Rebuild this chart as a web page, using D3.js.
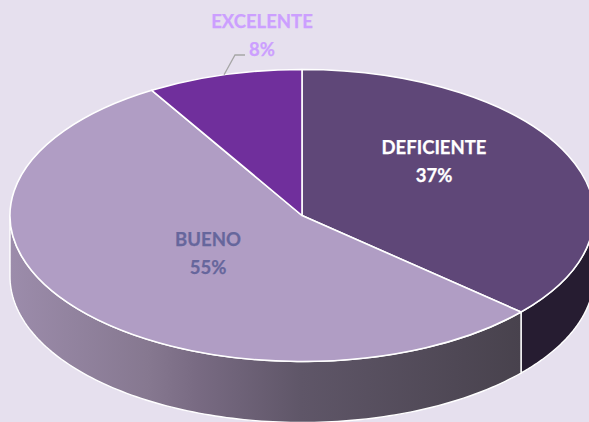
<!DOCTYPE html>
<html>
<head>
<meta charset="utf-8">
<script src="https://cdn.jsdelivr.net/npm/d3@7"></script>
<style>
  html, body { margin: 0; padding: 0; background: #e6e0ee; overflow: hidden; }
  svg { display: block; }
  text { font-family: Lato, "Open Sans", sans-serif; font-weight: 700; font-size: 18.5px; text-anchor: middle; stroke-width: 0.25px; }
</style>
</head>
<body>
<script>
const categories = ['DEFICIENTE', 'BUENO', 'EXCELENTE'];
const values = [36.5, 54.9, 8.6];
const percentLabels = ['37%', '55%', '8%'];
const topColors = ['#5f4778', '#b09dc4', '#702f9c'];
const labelColors = ['#ffffff', '#66669c', '#cc9fff'];
const labelPositions = [[434, 148], [208, 240], [262, 22]];

const width = 589, height = 422;
const cx = 302, cy = 215.5;
const rx = 292, ry = 146;
const depth = 61;

const svg = d3.select('body').append('svg')
  .attr('width', width)
  .attr('height', height);

const pie = d3.pie().sort(null).value(d => d)(values);

const px = a => cx + rx * Math.sin(a);
const py = a => cy - ry * Math.cos(a);

const defs = svg.append('defs');
const grad = defs.append('linearGradient')
  .attr('id', 'wallBueno')
  .attr('gradientUnits', 'userSpaceOnUse')
  .attr('x1', cx - rx).attr('y1', 0)
  .attr('x2', px(pie[1].startAngle)).attr('y2', 0);
grad.append('stop').attr('offset', '0%').attr('stop-color', '#9c8cab');
grad.append('stop').attr('offset', '27%').attr('stop-color', '#867890');
grad.append('stop').attr('offset', '37%').attr('stop-color', '#786a82');
grad.append('stop').attr('offset', '57%').attr('stop-color', '#5f5668');
grad.append('stop').attr('offset', '100%').attr('stop-color', '#48424d');

// paredes: solo la parte de la elipse que mira hacia abajo
const wall = d3.area()
  .x(a => px(a))
  .y0(a => py(a))
  .y1(a => py(a) + depth);

const wallFill = ['#261c31', 'url(#wallBueno)'];
pie.forEach((d, i) => {
  const from = Math.max(d.startAngle, Math.PI / 2);
  const to = Math.min(d.endAngle, Math.PI * 1.5);
  if (from >= to) return;
  const steps = d3.range(0, 121).map(k => from + (to - from) * k / 120);
  svg.append('path')
    .attr('d', wall(steps))
    .attr('fill', wallFill[i])
    .attr('stroke', '#ffffff')
    .attr('stroke-width', 1.4)
    .attr('stroke-linejoin', 'round');
});

const arc = d3.arc().innerRadius(0).outerRadius(rx);

const g = svg.append('g')
  .attr('transform', `translate(${cx},${cy}) scale(1,${ry / rx})`);

g.selectAll('path')
  .data(pie)
  .enter()
  .append('path')
  .attr('d', arc)
  .attr('fill', (d, i) => topColors[i])
  .attr('stroke', '#ffffff')
  .attr('stroke-width', 1.6)
  .attr('stroke-linejoin', 'round')
  .attr('vector-effect', 'non-scaling-stroke');

// linea guia de EXCELENTE
const leaderAngle = (pie[2].startAngle + pie[2].endAngle) / 2;
svg.append('path')
  .attr('d', d3.line()([[px(leaderAngle), py(leaderAngle)], [235, 55], [245, 55]]))
  .attr('fill', 'none')
  .attr('stroke', '#a6a6a6')
  .attr('stroke-width', 1.3);

categories.forEach((name, i) => {
  const [x, y] = labelPositions[i];
  svg.append('text')
    .attr('x', x).attr('y', y)
    .attr('dy', '0.35em')
    .attr('fill', labelColors[i])
    .attr('stroke', labelColors[i])
    .text(name);
  svg.append('text')
    .attr('x', x).attr('y', y + 28)
    .attr('dy', '0.35em')
    .attr('fill', labelColors[i])
    .attr('stroke', labelColors[i])
    .text(percentLabels[i]);
});
</script>
</body>
</html>
